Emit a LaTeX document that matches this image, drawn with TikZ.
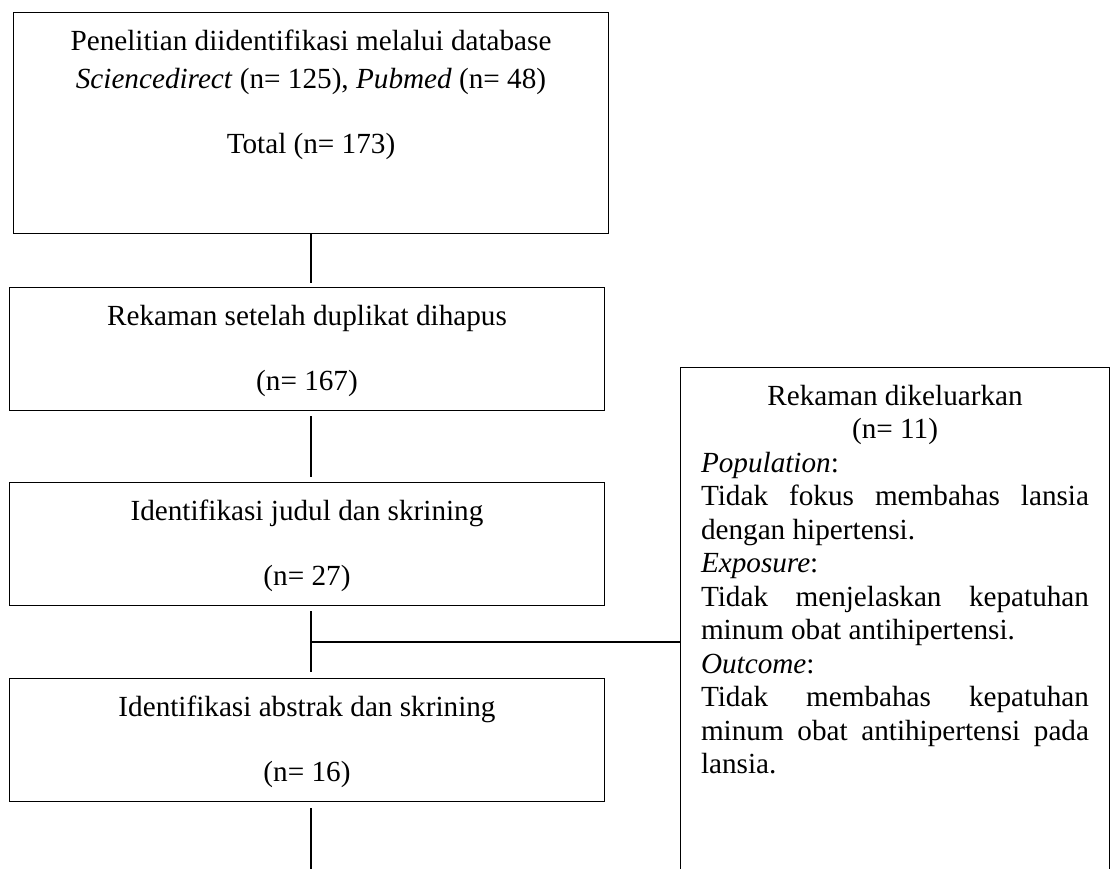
\documentclass[tikz,border=0pt]{standalone}
\usepackage{fontspec}
\setmainfont{Liberation Serif}

\begin{document}
\begin{tikzpicture}[x=0.5pt,y=-0.5pt,
    font=\fontsize{14.6}{19}\selectfont,
    flowbox/.style={draw, line width=0.5pt, inner sep=0pt, anchor=north west},
    link/.style={line width=0.65pt}]
\clip (0,0) rectangle (1111,868);

% main column
\node[flowbox] (search) at (13,12) {\parbox[c][110.5pt][t]{297.5pt}{\centering\rule{0pt}{19pt}Penelitian diidentifikasi melalui database\\
    \textit{Sciencedirect} (n= 125), \textit{Pubmed} (n= 48)\\[13.5pt] Total (n= 173)}};
\node[flowbox] (dedup) at (9,287) {\parbox[c][61.5pt][t]{297.5pt}{\centering\rule{0pt}{19pt}Rekaman setelah duplikat dihapus\\[13.5pt] (n= 167)}};
\node[flowbox] (title) at (9,482) {\parbox[c][61.5pt][t]{297.5pt}{\centering\rule{0pt}{19pt}Identifikasi judul dan skrining\\[13.5pt] (n= 27)}};
\node[flowbox] (abstract) at (9,678) {\parbox[c][61.5pt][t]{297.5pt}{\centering\rule{0pt}{19pt}Identifikasi abstrak dan skrining\\[13.5pt] (n= 16)}};

% excluded records
\node[flowbox, inner xsep=10.25pt] (excluded) at (680,367) {\parbox[c][265pt][t]{194pt}{\fontsize{14.6}{16.73}\selectfont
    {\centering\rule{0pt}{19pt}Rekaman dikeluarkan\\ (n= 11)\par}
    \textit{Population}:\\
    \makebox[\linewidth][s]{Tidak fokus membahas lansia}\\
    dengan hipertensi.\\
    \textit{Exposure}:\\
    \makebox[\linewidth][s]{Tidak menjelaskan kepatuhan}\\
    minum obat antihipertensi.\\
    \textit{Outcome}:\\
    \makebox[\linewidth][s]{Tidak membahas kepatuhan}\\
    \makebox[\linewidth][s]{minum obat antihipertensi pada}\\
    lansia.}};

\coordinate (branch) at (311,642);
\coordinate (bottom) at (311,880);

\draw[link, shorten >=2pt] (search.south) -- (search.south |- dedup.north);
\draw[link, shorten <=2.5pt, shorten >=2.5pt] (dedup.south -| search.south) -- (title.north -| search.south);
\draw[link, shorten <=2.5pt, shorten >=3pt] (title.south -| search.south) -- (abstract.north -| search.south);
\draw[link] (branch) -- (branch -| excluded.west);
\draw[link, shorten <=3pt] (abstract.south -| search.south) -- (bottom);

\end{tikzpicture}
\end{document}
